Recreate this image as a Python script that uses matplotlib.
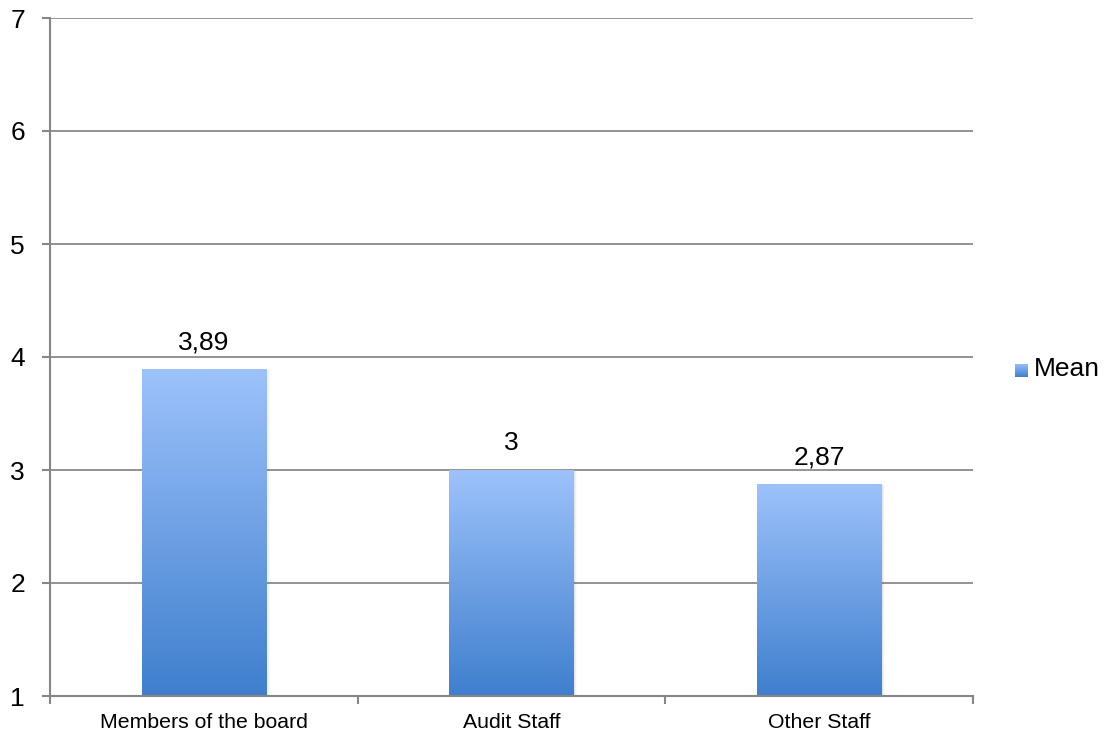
import numpy as np
import matplotlib
matplotlib.use("Agg")
import matplotlib.pyplot as plt
from matplotlib.colors import LinearSegmentedColormap

categories = ["Members of the board", "Audit Staff", "Other Staff"]
means = [3.89, 3.0, 2.87]
value_labels = ["3,89", "3", "2,87"]
series_name = "Mean"
yticks = [1, 2, 3, 4, 5, 6, 7]

plt.rcParams['font.family'] = ['Liberation Sans', 'DejaVu Sans']

W, H = 1107, 733
fig = plt.figure(figsize=(W / 100, H / 100), dpi=100)
ax = fig.add_axes([50 / W, 1 - 696 / H, (973 - 50) / W, (696 - 18) / H])

cmap = LinearSegmentedColormap.from_list("g", ["#3f7fcd", "#9dc2fb"])
grad = np.linspace(0, 1, 256).reshape(-1, 1)

bar_w = 0.405
ymin = 1
for i, v in enumerate(means):
    x0, x1 = i - bar_w / 2, i + bar_w / 2
    # soft shadow
    for k, a in enumerate([0.05, 0.035, 0.02]):
        off = 0.004 * (k + 1)
        ax.fill_between([x0 + off, x1 + off], ymin, v - 0.005, color="#000000",
                        alpha=a, lw=0, zorder=2.5)
    ax.imshow(grad, extent=[x0, x1, ymin, v], origin="lower", cmap=cmap,
              aspect="auto", zorder=3, interpolation="bilinear")
    ax.text(i, v + 0.13, value_labels[i], ha="center", va="bottom", fontsize=19,
            color="#000000", zorder=4)

ax.set_xlim(-0.5, len(categories) - 0.5)
ax.set_ylim(1, 7)
ax.set_yticks(yticks)
ax.set_yticklabels([str(t) for t in yticks], fontsize=19)
ax.set_xticks(range(len(categories)))
ax.set_xticklabels(categories, fontsize=15.3)
ax.set_xticks(np.arange(-0.5, len(categories), 1), minor=True)
ax.tick_params(axis="x", which="major", length=0, pad=12)
ax.tick_params(axis="x", which="minor", length=6, width=1.5, color="#868686", direction="out")
ax.tick_params(axis="y", length=6, width=1.5, color="#868686", pad=12)

ax.grid(axis="y", color="#8a8a8a", linewidth=1.3, zorder=1)
ax.set_axisbelow(True)
for s in ["top", "right"]:
    ax.spines[s].set_visible(False)
for s in ["left", "bottom"]:
    ax.spines[s].set_color("#868686")
    ax.spines[s].set_linewidth(1.5)
    ax.spines[s].set_zorder(5)

# legend
lax = fig.add_axes([1015 / W, 1 - 377 / H, 13 / W, 13 / H])
lax.imshow(grad, origin="lower", cmap=cmap, aspect="auto", extent=[0, 1, 0, 1])
lax.axis("off")
fig.text(1034 / W, 1 - 369 / H, series_name, fontsize=19, va="center", ha="left")

fig.savefig("out.png", dpi=100)
